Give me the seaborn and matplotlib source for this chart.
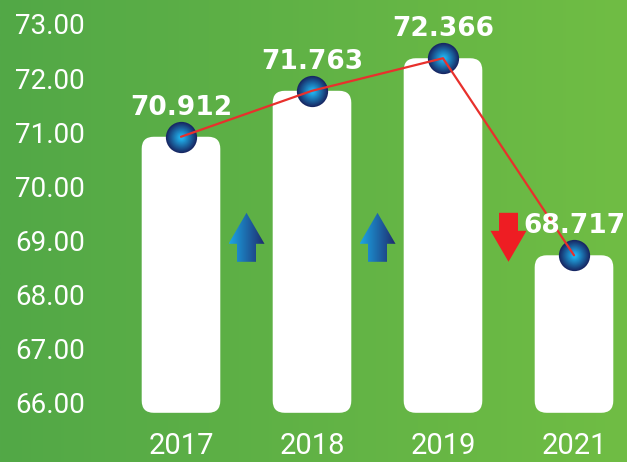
import numpy as np
import matplotlib
matplotlib.use("Agg")
import matplotlib.pyplot as plt
import seaborn as sns
import pandas as pd
from matplotlib.patches import FancyBboxPatch, Polygon
from matplotlib.colors import LinearSegmentedColormap, to_rgb

years = ["2017", "2018", "2019", "2021"]
values = [70.912, 71.763, 72.366, 68.717]
y_ticks = [66, 67, 68, 69, 70, 71, 72, 73]

sns.set_theme(style="white")
plt.rcParams["font.family"] = ["Roboto", "DejaVu Sans"]

W, H = 627, 462
fig = plt.figure(figsize=(W / 100, H / 100), dpi=100)

# green gradient background
bg = fig.add_axes([0, 0, 1, 1], zorder=0)
grad = np.linspace(0, 1, 256).reshape(1, -1)
bg_cmap = LinearSegmentedColormap.from_list("bg", ["#52a847", "#70bd44"])
bg.imshow(grad, aspect="auto", cmap=bg_cmap, extent=[0, 1, 0, 1])
bg.axis("off")

ax = fig.add_axes([0, 37 / H, 1, 1 - 37 / H], zorder=1)
ax.patch.set_alpha(0)

df = pd.DataFrame({"year": years, "value": values})
sns.barplot(data=df, x="year", y="value", color="white", width=0.6, ax=ax)

# pixel scale of the axes (px per data unit)
sx, sy = 131.0, 54.0
xlim = (-181 / sx, 3 + 53 / sx)
ylim = (66 - 23 / sy, 73 + 24 / sy)

# rounded white bars
base = 65.8
for p in list(ax.patches):
    x0, w, h = p.get_x(), p.get_width(), p.get_height()
    p.remove()
    ax.add_patch(FancyBboxPatch((x0, base), w, h - base,
                                boxstyle="round,pad=0,rounding_size=0.092",
                                mutation_aspect=sx / sy, fc="white", ec="none", zorder=2))

xs = np.arange(len(values))

# glossy blue markers
dark, light = np.array(to_rgb("#172864")), np.array(to_rgb("#20b0ec"))
n = 14
for i in range(n):
    t = i / (n - 1)
    d = 22.5 * (1 - t * 0.85)
    ax.scatter(xs, values, s=d ** 2, color=dark * (1 - t) + light * t,
               linewidths=0, zorder=4 + i * 0.01)

ax.plot(xs, values, color="#e8302c", lw=1.6, zorder=5)

for x, v in zip(xs, values):
    ax.annotate(f"{v:.3f}", (x, v), xytext=(0, 21), textcoords="offset points",
                ha="center", va="center", fontsize=19, fontweight="bold",
                color="white", family="DejaVu Sans", zorder=6)

# trend arrows between bars
arrow_y = 69.05
blue_cmap = LinearSegmentedColormap.from_list("arr", ["#1ca6e6", "#1e2a6c"])
pts = [(-9.5, -24.5), (9.5, -24.5), (9.5, -6.5), (18, -6.5), (0, 24.5),
       (-18, -6.5), (-9.5, -6.5)]
for i in range(len(values) - 1):
    xm = i + 0.5
    up = values[i + 1] > values[i]
    sgn = 1 if up else -1
    poly = [(xm + px / sx, arrow_y + sgn * py / sy) for px, py in pts]
    if up:
        clip = Polygon(poly, closed=True, fc="none", ec="none")
        ax.add_patch(clip)
        im = ax.imshow(grad, aspect="auto", cmap=blue_cmap, zorder=3,
                       extent=[xm - 18 / sx, xm + 18 / sx,
                               arrow_y - 24.5 / sy, arrow_y + 24.5 / sy])
        im.set_clip_path(clip)
    else:
        ax.add_patch(Polygon(poly, closed=True, fc="#ee1d23", ec="none", zorder=3))

ax.set_xlim(*xlim)
ax.set_ylim(*ylim)
ax.set_yticks(y_ticks)
ax.set_yticklabels([f"{t:.2f}" for t in y_ticks], fontsize=20, color="white",
                   ha="left")
ax.tick_params(axis="y", length=0, pad=-10.8)
ax.tick_params(axis="x", length=0, pad=5, labelsize=21, labelcolor="white")
ax.set_xlabel("")
ax.set_ylabel("")
sns.despine(ax=ax, left=True, bottom=True)
ax.grid(False)

fig.savefig("out.png", dpi=100)
